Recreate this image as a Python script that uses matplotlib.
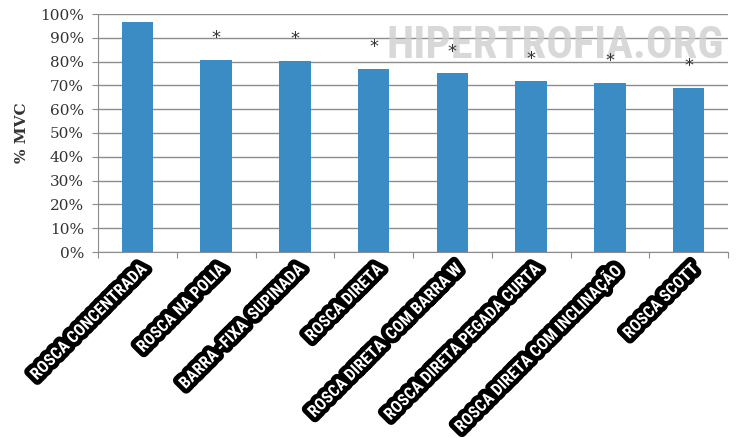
import matplotlib
matplotlib.use('Agg')
import matplotlib.pyplot as plt
import matplotlib.patheffects as pe
from matplotlib.ticker import PercentFormatter, MultipleLocator

# data
exercises = ['ROSCA CONCENTRADA', 'ROSCA NA POLIA', 'BARRA -FIXA  SUPINADA',
             'ROSCA DIRETA', 'ROSCA DIRETA  COM BARRA W',
             'ROSCA DIRETA PEGADA CURTA', 'ROSCA DIRETA COM INCLINAÇÃO',
             'ROSCA SCOTT']
mvc = [0.968, 0.808, 0.803, 0.769, 0.751, 0.720, 0.711, 0.689]
significant = [False, True, True, True, True, True, True, True]

narrow = ['Roboto Condensed', 'Liberation Sans Narrow', 'Roboto', 'DejaVu Sans']

W, H = 737, 438
fig = plt.figure(figsize=(W / 100, H / 100), dpi=100)
ax = fig.add_axes([98 / W, 1 - 252 / H, 630 / W, 238 / H])

x = range(len(exercises))
ax.bar(x, mvc, width=0.4, color='#3b8bc4', zorder=2)

ax.set_xlim(-0.5, len(exercises) - 0.5)
ax.set_ylim(0, 1.0)
ax.yaxis.set_major_locator(MultipleLocator(0.1))
ax.yaxis.set_major_formatter(PercentFormatter(1.0, decimals=0))
ax.grid(axis='y', color='#8c8c8c', linewidth=1, zorder=0)
ax.set_axisbelow(True)

for s in ['top', 'right']:
    ax.spines[s].set_visible(False)
for s in ['left', 'bottom']:
    ax.spines[s].set_color('#8c8c8c')

ax.tick_params(axis='y', length=4, color='#8c8c8c', pad=6)
ax.set_xticks([i - 0.5 for i in range(len(exercises) + 1)])
ax.set_xticklabels([])
ax.tick_params(axis='x', length=4, color='#8c8c8c')
for lbl in ax.get_yticklabels():
    lbl.set_family('DejaVu Serif')
    lbl.set_fontsize(11)
    lbl.set_color('#333333')

ax.set_ylabel('% MVC', family='DejaVu Serif', fontweight='bold',
              fontsize=11, color='#333333', labelpad=8)

# category labels: white condensed text with a thick black outline
outline = [pe.withStroke(linewidth=7, foreground='black', capstyle='round', joinstyle='round')]
for i, name in enumerate(exercises):
    ax.annotate(name, xy=(i, 0), xycoords=('data', 'axes fraction'),
                xytext=(1, -7), textcoords='offset points',
                rotation=45, rotation_mode='anchor', ha='right', va='top',
                family=narrow, fontweight='black', fontsize=12, color='white',
                path_effects=outline, annotation_clip=False)

# asterisks
for i, (v, sig) in enumerate(zip(mvc, significant)):
    if sig:
        ax.text(i, v + 0.07, '*', ha='center', va='baseline',
                fontsize=13, color='#333333', zorder=5)

# watermark, behind the asterisks
ax.text(724 / W, 1 - 58 / H, 'HIPERTROFIA.ORG', ha='right', va='baseline',
        transform=fig.transFigure, family=narrow, fontweight='black',
        fontsize=32, color='#cfcfcf', alpha=0.8, zorder=1, clip_on=False)

fig.savefig('out.png', dpi=100)
